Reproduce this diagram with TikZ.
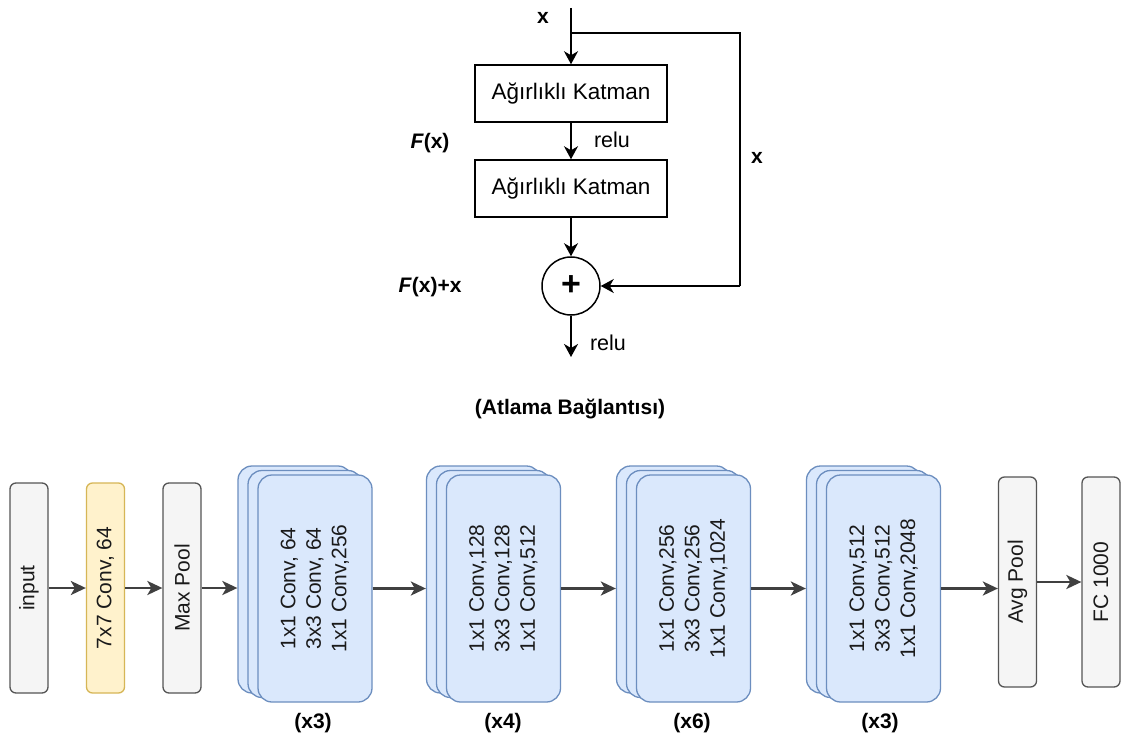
\documentclass[tikz,border=0pt]{standalone}
\usepackage{fontspec}
\setmainfont{Liberation Sans}
\usetikzlibrary{arrows.meta}

\definecolor{grayfill}{HTML}{F5F5F5}
\definecolor{graydraw}{HTML}{555555}
\definecolor{yelfill}{HTML}{FFF2CC}
\definecolor{yeldraw}{HTML}{D6B656}
\definecolor{bluefill}{HTML}{DAE8FC}
\definecolor{bluedraw}{HTML}{6C8EBF}
\definecolor{arrgray}{HTML}{404040}
\definecolor{txtgray}{HTML}{1A1A1A}

\tikzset{
  pbox/.style={draw=graydraw, fill=grayfill, rounded corners=6pt, line width=1.3pt,
               minimum width=38pt, minimum height=210pt, inner sep=0pt},
  convbox/.style={pbox, draw=yeldraw, fill=yelfill},
  blk/.style={draw=bluedraw, fill=bluefill, rounded corners=14pt, line width=1.3pt,
              minimum width=114pt, minimum height=227pt, inner sep=0pt},
  vtxt/.style={rotate=90, align=center, text=txtgray, inner sep=0pt},
  arr/.style={draw=arrgray, line width=2.6pt,
              -{Stealth[length=15pt,width=14pt,inset=4pt]}},
  tarr/.style={draw=black, line width=1.7pt,
               -{Stealth[length=13pt,width=14pt,inset=4pt]}},
  tline/.style={draw=black, line width=1.7pt},
  wbox/.style={draw=black, line width=1.5pt, minimum width=192pt, minimum height=57pt,
               inner sep=0pt, font=\fontsize{22.5}{26}\selectfont},
  sumnode/.style={draw=black, circle, line width=1.5pt, minimum size=58pt, inner sep=0pt},
  bl/.style={font=\fontsize{21}{25}\selectfont\bfseries},
  rl/.style={font=\fontsize{21.5}{25}\selectfont}
}

\begin{document}
\begin{tikzpicture}[x=1pt, y=-1pt, font=\fontsize{21}{25.5}\selectfont]
\useasboundingbox (0,0) rectangle (1121,738);
\fill[white] (0,0) rectangle (1121,738);

% ---------- residual block ----------
\coordinate (xin) at (571,8);
\coordinate (split) at (571,33);
\coordinate (cornerA) at (740,33);
\coordinate (cornerB) at (740,286);
\coordinate (xout) at (571,357);

\node[wbox] (k1) at (571,93.5) {Ağırlıklı Katman};
\node[wbox] (k2) at (571,188.5) {Ağırlıklı Katman};
\node[sumnode, font=\fontsize{34}{34}\selectfont\bfseries] (plus) at (571,286) {+};

\draw[tarr] (xin) -- (k1);
\draw[tline] (split) -- (cornerA) -- (cornerB);
\draw[tarr] (cornerB) -- (plus);
\draw[tarr] (k1) -- (k2);
\draw[tarr] (k2) -- (plus);
\draw[tarr] (plus) -- (xout);

\node[bl] (lx) at (543,18) {x};
\node[bl] (lx2) at (757,158) {x};
\node[rl] (relu1) at (612,140) {relu};
\node[rl] (relu2) at (608,343) {relu};
\node[bl] (fx) at (430,143) {\textit{F}(x)};
\node[bl] (fxx) at (430,287) {\textit{F}(x)+x};
\node[bl] (skip) at (570,409) {(Atlama Bağlantısı)};

% ---------- ResNet-50 pipeline ----------
\node[pbox, label={[vtxt]center:input}] (inp) at (29,588) {};
\node[convbox, label={[vtxt]center:{7x7 Conv, 64}}] (c7) at (105.5,588) {};
\node[pbox, label={[vtxt]center:{Max Pool}}] (mp) at (182,588) {};

% stage 1
\node[blk] (b1c) at (295,579.5) {};
\node[blk] (b1b) at (305,584) {};
\node[blk, label={[vtxt]center:{1x1 Conv, 64\\3x3 Conv, 64\\1x1 Conv,256}}] (b1) at (315,588.5) {};
\node[bl] (n1) at (313,723) {(x3)};

% stage 2
\node[blk] (b2c) at (483.5,579.5) {};
\node[blk] (b2b) at (493.5,584) {};
\node[blk, label={[vtxt]center:{1x1 Conv,128\\3x3 Conv,128\\1x1 Conv,512}}] (b2) at (503.5,588.5) {};
\node[bl] (n2) at (503,723) {(x4)};

% stage 3
\node[blk] (b3c) at (673.5,579.5) {};
\node[blk] (b3b) at (683.5,584) {};
\node[blk, label={[vtxt]center:{1x1 Conv,256\\3x3 Conv,256\\1x1 Conv,1024}}] (b3) at (693.5,588.5) {};
\node[bl] (n3) at (692,723) {(x6)};

% stage 4
\node[blk] (b4c) at (863.5,579.5) {};
\node[blk] (b4b) at (873.5,584) {};
\node[blk, label={[vtxt]center:{1x1 Conv,512\\3x3 Conv,512\\1x1 Conv,2048}}] (b4) at (883.5,588.5) {};
\node[bl] (n4) at (880,723) {(x3)};

\node[pbox, label={[vtxt]center:{Avg Pool}}] (ap) at (1017.5,582) {};
\node[pbox, label={[vtxt]center:{FC 1000}}] (fc) at (1101,582) {};

\draw[arr] (inp.east) -- (inp.east -| c7.west);
\draw[arr] (c7.east) -- (c7.east -| mp.west);
\draw[arr] (mp.east) -- (mp.east -| b1c.west);
\draw[arr] (b1.east) -- (b1.east -| b2c.west);
\draw[arr] (b2.east) -- (b2.east -| b3c.west);
\draw[arr] (b3.east) -- (b3.east -| b4c.west);
\draw[arr] (b4.east) -- (b4.east -| ap.west);
\draw[arr] (ap.east) -- (ap.east -| fc.west);
\end{tikzpicture}
\end{document}
